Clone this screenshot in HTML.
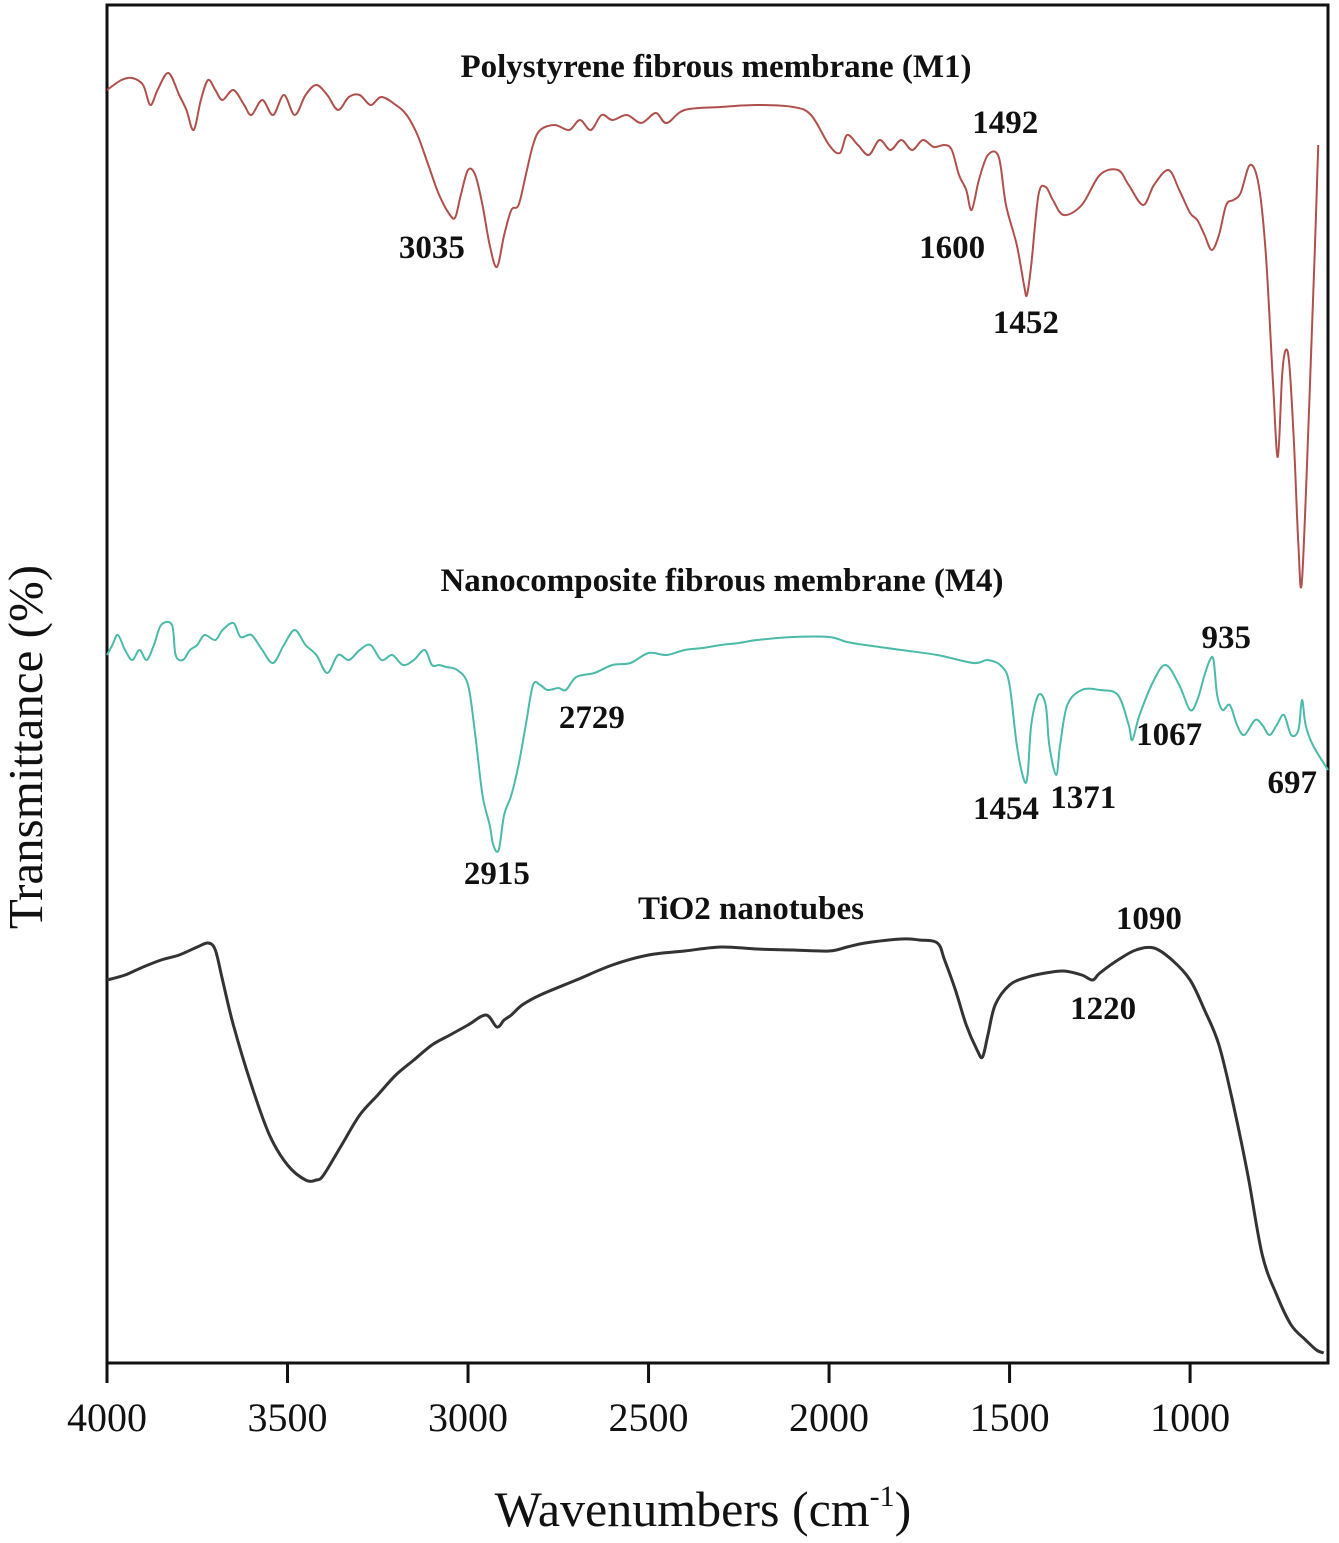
<!DOCTYPE html>
<html><head><meta charset="utf-8"><style>
html,body{margin:0;padding:0;background:#fff}
svg{display:block}
text{font-family:"Liberation Serif",serif;fill:#111}
</style></head><body>
<svg id="chart" width="1339" height="1543" viewBox="0 0 1339 1543" xmlns="http://www.w3.org/2000/svg">
<rect x="107" y="5" width="1221" height="1358" fill="none" stroke="#111" stroke-width="3"/>
<g id="xaxis"></g>
<g id="series"></g>
<g id="labels"></g>
<text transform="translate(42,747) rotate(-90)" text-anchor="middle" font-size="49">Transmittance (%)</text>
<text x="703" y="1526" text-anchor="middle" font-size="50">Wavenumbers (cm<tspan dy="-20" font-size="30">-1</tspan><tspan dy="20">)</tspan></text>
<text x="716" y="77" text-anchor="middle" font-size="33" font-weight="bold">Polystyrene fibrous membrane (M1)</text>
<text x="722" y="591" text-anchor="middle" font-size="33" font-weight="bold">Nanocomposite fibrous membrane (M4)</text>
<text x="751" y="919" text-anchor="middle" font-size="33" font-weight="bold">TiO2 nanotubes</text>
</svg>
<script>
const xTicks=[4000,3500,3000,2500,2000,1500,1000];
const m1Wn=[4000,3960,3930,3900,3880,3860,3830,3800,3780,3760,3740,3720,3700,3680,3650,3620,3600,3570,3540,3510,3480,3450,3420,3390,3360,3330,3300,3270,3240,3200,3170,3140,3110,3080,3050,3035,3020,3000,2980,2960,2940,2920,2900,2880,2860,2840,2820,2800,2760,2720,2690,2660,2630,2600,2560,2520,2480,2450,2400,2300,2200,2100,2050,2000,1970,1950,1920,1890,1860,1830,1800,1770,1740,1710,1680,1660,1640,1620,1605,1585,1560,1530,1510,1480,1460,1452,1440,1420,1400,1380,1350,1300,1250,1200,1170,1130,1100,1060,1030,1000,980,960,940,920,900,880,860,834,810,790,770,757,745,735,725,712,700,690,670,655,645];
const m1T=[85,75,73,80,100,85,68,90,105,125,95,75,85,95,85,100,110,95,110,90,110,90,80,90,105,92,90,100,92,100,110,130,160,190,210,212,190,165,170,200,240,262,230,205,200,170,140,125,120,125,115,125,110,115,110,118,108,118,105,102,100,102,110,140,148,130,140,150,135,145,135,145,135,142,140,145,170,185,205,175,150,152,200,240,280,290,260,190,182,195,210,200,170,165,180,200,180,165,185,208,215,230,245,230,200,195,188,160,180,250,380,452,370,345,360,440,540,575,400,250,140];
const m4Wn=[4000,3985,3970,3950,3930,3910,3890,3870,3850,3820,3810,3790,3770,3750,3730,3700,3680,3650,3630,3600,3570,3540,3510,3480,3450,3420,3390,3360,3330,3300,3270,3240,3210,3180,3150,3120,3100,3080,3060,3030,3000,2980,2960,2940,2930,2915,2900,2880,2860,2840,2820,2800,2780,2750,2729,2700,2650,2600,2550,2500,2450,2400,2350,2300,2250,2200,2100,2000,1950,1900,1800,1700,1600,1560,1520,1500,1480,1460,1450,1440,1420,1400,1390,1371,1360,1340,1300,1250,1200,1170,1160,1140,1100,1067,1030,1000,980,960,945,935,925,910,890,870,850,820,800,780,760,740,720,700,690,680,660,618];
const m4T=[650,640,630,645,655,645,655,640,620,620,650,655,645,640,630,635,625,618,632,630,645,658,640,625,640,650,668,650,655,645,640,655,650,660,655,645,660,660,662,665,680,730,790,820,840,845,810,790,760,720,680,680,685,683,685,672,668,660,658,648,650,645,643,640,638,635,632,632,637,640,645,650,658,655,662,680,740,775,770,720,690,700,740,770,740,700,685,685,690,720,735,710,675,660,680,705,695,670,655,655,690,705,700,720,730,715,720,730,720,710,730,725,695,720,740,765];
const tWn=[4000,3950,3900,3850,3800,3750,3720,3700,3680,3650,3600,3550,3500,3450,3420,3400,3350,3300,3250,3200,3150,3100,3050,3000,2950,2920,2900,2880,2850,2800,2700,2600,2500,2400,2300,2200,2100,2000,1950,1900,1800,1750,1700,1680,1650,1620,1590,1575,1560,1540,1500,1450,1400,1350,1300,1270,1250,1200,1150,1100,1050,1000,960,920,880,840,800,760,720,680,650,630];
const tT=[975,970,962,955,950,942,938,945,975,1020,1080,1130,1160,1175,1175,1170,1140,1110,1090,1070,1055,1040,1030,1020,1010,1022,1015,1010,1000,990,975,960,950,946,942,944,945,946,942,938,934,935,938,955,985,1020,1045,1052,1030,1000,980,972,968,966,970,975,968,955,945,943,955,975,1005,1040,1100,1170,1250,1290,1320,1335,1345,1348];
const peakLabels=["3035","2915","1600","1492","1452","2729","1454","1371","1067","935","697","1220","1090"];
const peakX=[3100,2920,1659,1512,1455,2657,1510,1296,1058,900,717,1241,1114];
const peakV=[253,879,253,128,328,723,814,803,740,643,788,1014,924];

const X0=107,X1=1328,W0=4000,W1=618;
const xs=w=>X0+(W0-w)*(X1-X0)/(W0-W1);
const ys=v=>5+v*(1363-5)/1358;
const NS="http://www.w3.org/2000/svg";
const xa=document.getElementById('xaxis');
xTicks.forEach(t=>{
  const l=document.createElementNS(NS,'line');
  
  
  l.setAttribute('x1',xs(t));l.setAttribute('x2',xs(t));l.setAttribute('y1',1363);l.setAttribute('y2',1383);
  l.setAttribute('stroke','#111');l.setAttribute('stroke-width','3');xa.appendChild(l);
  const tx=document.createElementNS(NS,'text');
  
  
  tx.setAttribute('x',xs(t));tx.setAttribute('y',1431);tx.setAttribute('text-anchor','middle');tx.setAttribute('font-size','40');
  tx.textContent=t;xa.appendChild(tx);
});
function path(wn,v){
  const p=wn.map((w,i)=>[xs(w),ys(v[i])]);
  let d=`M${p[0][0]},${p[0][1]}`;
  for(let i=0;i<p.length-1;i++){
    const a=p[Math.max(0,i-1)],b=p[i],c=p[i+1],e=p[Math.min(p.length-1,i+2)];
    d+=` C${b[0]+(c[0]-a[0])/6},${b[1]+(c[1]-a[1])/6} ${c[0]-(e[0]-b[0])/6},${c[1]-(e[1]-b[1])/6} ${c[0]},${c[1]}`;
  }
  return d;
}
const sg=document.getElementById('series');
[[m1Wn,m1T,'#b0504c',2,'m1-line'],[m4Wn,m4T,'#4bbaa9',2,'m4-line'],[tWn,tT,'#333',3,'tio2-line']].forEach(s=>{
  const pa=document.createElementNS(NS,'path');
  
  
  pa.setAttribute('d',path(s[0],s[1]));pa.setAttribute('fill','none');pa.setAttribute('stroke',s[2]);pa.setAttribute('stroke-width',s[3]);
  sg.appendChild(pa);
});
const lg=document.getElementById('labels');
peakLabels.forEach((t,i)=>{
  const tx=document.createElementNS(NS,'text');
  
  
  tx.setAttribute('x',xs(peakX[i]));tx.setAttribute('y',ys(peakV[i]));tx.setAttribute('text-anchor','middle');
  tx.setAttribute('font-size','33');tx.setAttribute('font-weight','bold');
  tx.textContent=t;lg.appendChild(tx);
});
</script>
</body></html>
